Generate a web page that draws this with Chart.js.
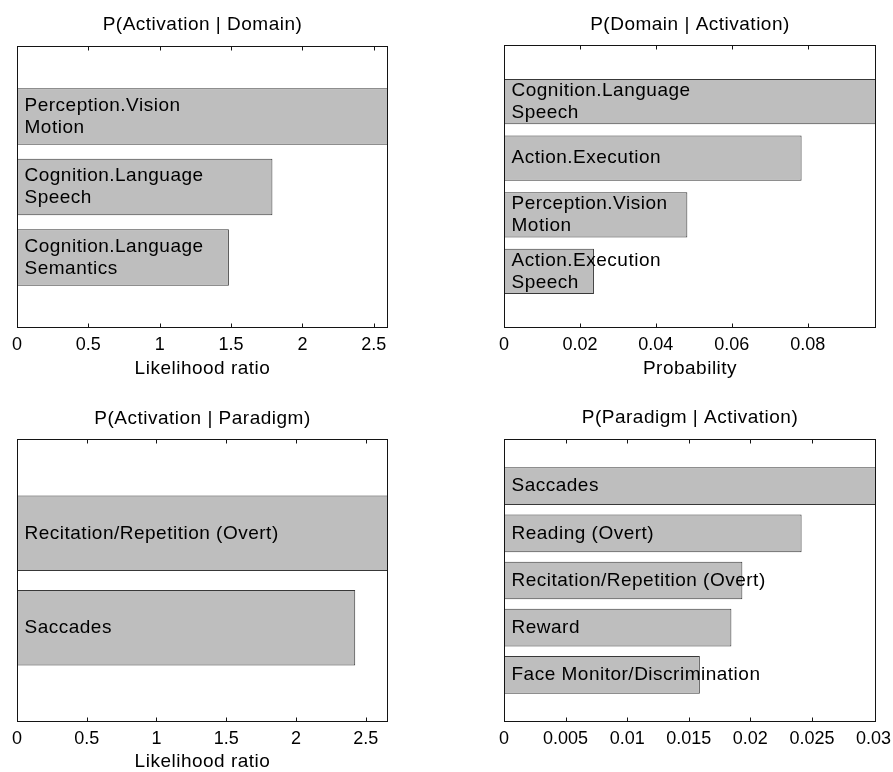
<!DOCTYPE html>
<html>
<head>
<meta charset="utf-8">
<script src="https://cdn.jsdelivr.net/npm/chart.js@4/dist/chart.umd.min.js"></script>
<style>
  html, body { margin: 0; padding: 0; background: #fff; }
  body { width: 893px; height: 772px; position: relative; overflow: hidden; }
  canvas { position: absolute; }
</style>
</head>
<body>
<canvas id="c1" width="446" height="386" style="left:0;top:0"></canvas>
<canvas id="c2" width="447" height="386" style="left:446px;top:0"></canvas>
<canvas id="c3" width="446" height="386" style="left:0;top:386px"></canvas>
<canvas id="c4" width="447" height="386" style="left:446px;top:386px"></canvas>
<script>
// P(Activation | Domain) — likelihood ratios
const domainLRLabels = [['Perception.Vision', 'Motion'], ['Cognition.Language', 'Speech'], ['Cognition.Language', 'Semantics']];
const domainLRValues = [2.60, 1.79, 1.485];
const domainLRTicks = [0, 0.5, 1, 1.5, 2, 2.5];

// P(Domain | Activation) — probabilities
const domainProbLabels = [['Cognition.Language', 'Speech'], ['Action.Execution'], ['Perception.Vision', 'Motion'], ['Action.Execution', 'Speech']];
const domainProbValues = [0.098, 0.0784, 0.0483, 0.0237];
const domainProbTicks = [0, 0.02, 0.04, 0.06, 0.08];

// P(Activation | Paradigm) — likelihood ratios
const paradigmLRLabels = [['Recitation/Repetition (Overt)'], ['Saccades']];
const paradigmLRValues = [2.66, 2.425];
const paradigmLRTicks = [0, 0.5, 1, 1.5, 2, 2.5];

// P(Paradigm | Activation) — probabilities
const paradigmProbLabels = [['Saccades'], ['Reading (Overt)'], ['Recitation/Repetition (Overt)'], ['Reward'], ['Face Monitor/Discrimination']];
const paradigmProbValues = [0.0302, 0.02416, 0.01935, 0.01846, 0.0159];
const paradigmProbTicks = [0, 0.005, 0.01, 0.015, 0.02, 0.025, 0.03];

const FONT = '"Liberation Sans", Arial, Helvetica, sans-serif';
const BAR_FILL = '#bebebe';
const BAR_EDGE = '#383838';
const FRAME = '#141414';

// Draws the panel frame, inward tick marks, bar captions and titles.
const panelDecor = {
  id: 'panelDecor',
  afterDatasetsDraw(chart, args, opts) {
    const ctx = chart.ctx;
    const a = chart.chartArea;
    const meta = chart.getDatasetMeta(0);
    const labels = chart.data.labels;

    ctx.save();
    ctx.fillStyle = '#000';
    ctx.font = '19px ' + FONT;
    try { ctx.letterSpacing = '0.5px'; } catch (e) {}
    ctx.textAlign = 'left';
    ctx.textBaseline = 'middle';
    meta.data.forEach((bar, i) => {
      const lines = labels[i];
      if (!lines || !lines.length || chart.data.datasets[0].data[i] == null) return;
      const p = bar.getProps(['y', 'base'], true);
      const n = lines.length;
      lines.forEach((ln, j) => {
        ctx.fillText(ln, p.base + 7.5, p.y + (j - (n - 1) / 2) * 22);
      });
    });

    // frame
    ctx.strokeStyle = FRAME;
    ctx.lineWidth = 1;
    const L = Math.round(a.left) + 0.5, R = Math.round(a.right) - 0.5;
    const T = Math.round(a.top) + 0.5, B = Math.round(a.bottom) - 0.5;
    ctx.strokeRect(L, T, R - L, B - T);

    // inward ticks on top and bottom edges
    const xs = chart.scales.x;
    ctx.beginPath();
    xs.ticks.forEach(t => {
      const px = Math.round(xs.getPixelForValue(t.value)) + 0.5;
      if (px <= L + 1 || px >= R - 1) return;
      ctx.moveTo(px, B); ctx.lineTo(px, B - 4);
      ctx.moveTo(px, T); ctx.lineTo(px, T + 4);
    });
    ctx.stroke();

    // panel title and axis title
    ctx.textAlign = 'center';
    const cx = (a.left + a.right) / 2;
    ctx.fillText(opts.title, cx, opts.titleY);
    if (opts.xTitle) ctx.fillText(opts.xTitle, cx, opts.xTitleY);
    ctx.restore();
  }
};

function makePanel(id, cats, values, ticks, box) {
  const labels = [[]].concat(cats, [[]]);
  const data = [null].concat(values, [null]);
  const xMax = Math.max(...values);
  return new Chart(document.getElementById(id), {
    type: 'bar',
    data: {
      labels: labels,
      datasets: [{
        data: data,
        backgroundColor: BAR_FILL,
        borderColor: BAR_EDGE,
        borderWidth: 1,
        borderSkipped: false,
        categoryPercentage: 1,
        barPercentage: 0.8
      }]
    },
    options: {
      indexAxis: 'y',
      responsive: false,
      animation: false,
      devicePixelRatio: 1,
      layout: { padding: { left: box.left, right: box.right, top: box.top, bottom: 0 } },
      plugins: {
        legend: { display: false },
        title: { display: false },
        tooltip: { enabled: false },
        panelDecor: { title: box.title, titleY: box.titleY, xTitle: box.xTitle, xTitleY: box.xTitleY }
      },
      scales: {
        y: {
          type: 'category',
          display: false,
          offset: false
        },
        x: {
          type: 'linear',
          min: 0,
          max: xMax,
          position: 'bottom',
          grid: { display: false, drawTicks: false },
          border: { display: false },
          afterBuildTicks(scale) { scale.ticks = ticks.map(v => ({ value: v })); },
          afterFit(scale) {
            scale.height = box.xHeight;
            scale.paddingLeft = 0;
            scale.paddingRight = 0;
          },
          ticks: {
            autoSkip: false,
            maxRotation: 0,
            padding: 6,
            color: '#000',
            font: { family: FONT, size: 18 },
            callback: v => String(v)
          }
        }
      }
    },
    plugins: [panelDecor]
  });
}

makePanel('c1', domainLRLabels, domainLRValues, domainLRTicks,
  { left: 17, right: 58, top: 46, xHeight: 58, title: 'P(Activation | Domain)', titleY: 25, xTitle: 'Likelihood ratio', xTitleY: 368.3 });
makePanel('c2', domainProbLabels, domainProbValues, domainProbTicks,
  { left: 58, right: 17, top: 45, xHeight: 58, title: 'P(Domain | Activation)', titleY: 24.5, xTitle: 'Probability', xTitleY: 368.3 });
makePanel('c3', paradigmLRLabels, paradigmLRValues, paradigmLRTicks,
  { left: 17, right: 58, top: 53, xHeight: 50, title: 'P(Activation | Paradigm)', titleY: 32.3, xTitle: 'Likelihood ratio', xTitleY: 375.3 });
makePanel('c4', paradigmProbLabels, paradigmProbValues, paradigmProbTicks,
  { left: 58, right: 17, top: 53, xHeight: 50, title: 'P(Paradigm | Activation)', titleY: 31.7, xTitle: '', xTitleY: 0 });
</script>
</body>
</html>
